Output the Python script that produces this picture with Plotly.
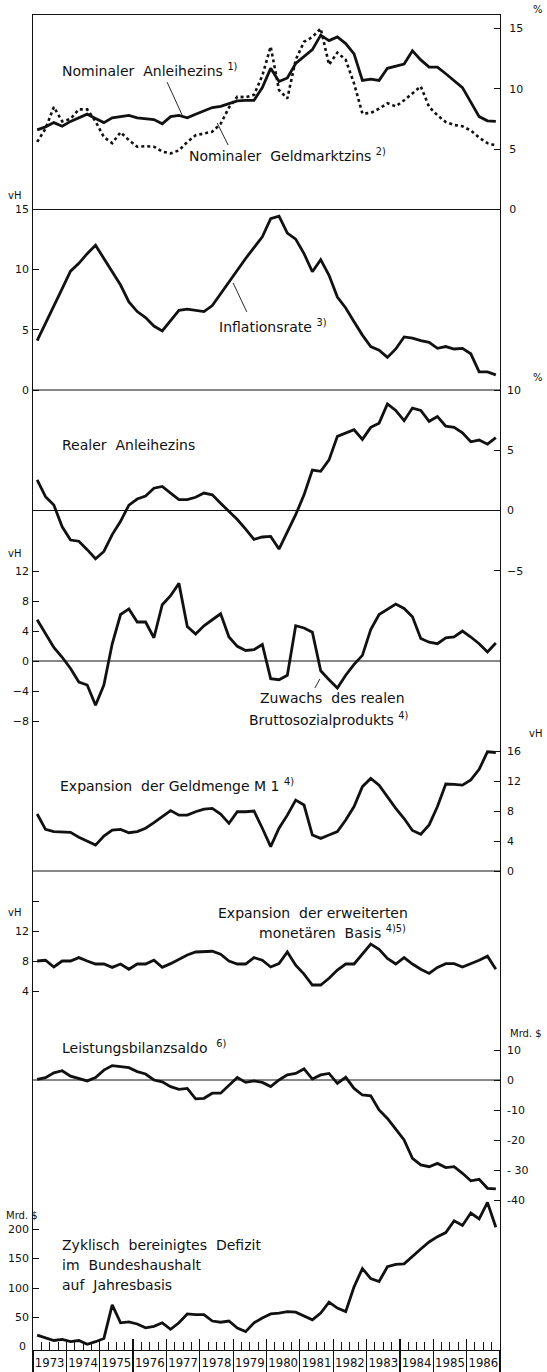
import plotly.graph_objects as go

# ---------------- data (quarterly, 1973 Q1 .. 1986 Q4) ----------------
years = list(range(1973, 1987))
year_labels = [str(y) for y in years]
n_q = 56

nominal_bond = [6.6, 6.85, 7.2, 6.9, 7.3, 7.6, 7.9, 7.55, 7.2, 7.6, 7.7, 7.8, 7.6, 7.55, 7.45, 7.1,
                7.7, 7.8, 7.6, 7.9, 8.2, 8.45, 8.55, 8.8, 9.0, 9.05, 9.05, 10.1, 11.7, 10.6, 10.9, 12.1,
                12.65, 13.25, 14.45, 14.0, 14.3, 13.75, 12.9, 10.7, 10.8, 10.7, 11.7, 11.9, 12.05, 13.15,
                12.4, 11.8, 11.8, 11.25, 10.7, 10.1, 8.9, 7.7, 7.35, 7.3]
money_market = [5.6, 6.7, 8.5, 7.3, 7.5, 8.3, 8.3, 7.3, 6.0, 5.5, 6.4, 5.75, 5.2, 5.25, 5.2, 4.8,
                4.65, 4.9, 5.6, 6.15, 6.3, 6.45, 7.1, 8.45, 9.35, 9.3, 9.5, 11.1, 13.5, 9.9, 9.2, 12.4,
                13.9, 14.3, 15.0, 12.0, 13.0, 12.4, 10.45, 7.95, 8.0, 8.35, 8.8, 8.55, 9.05, 9.6,
                10.2, 8.5, 7.8, 7.25, 7.0, 6.9, 6.55, 5.95, 5.5, 5.3]
inflation = [4.1, 5.5, 6.9, 8.4, 9.85, 10.5, 11.3, 12.0, 10.9, 9.8, 8.7, 7.3, 6.5, 6.0, 5.3, 4.9,
             5.75, 6.6, 6.7, 6.6, 6.5, 7.0, 8.0, 9.0, 9.95, 10.9, 11.8, 12.7, 14.2, 14.4, 13.0, 12.5,
             11.3, 9.8, 10.8, 9.5, 7.7, 6.8, 5.65, 4.55, 3.6, 3.3, 2.7, 3.4, 4.4, 4.3, 4.1, 3.95,
             3.45, 3.6, 3.4, 3.45, 3.0, 1.5, 1.5, 1.25]
real_bond = [2.55, 1.15, 0.45, -1.35, -2.45, -2.55, -3.25, -4.0, -3.4, -2.0, -0.9, 0.45, 0.95, 1.2, 1.85, 2.0,
             1.45, 0.9, 0.9, 1.1, 1.45, 1.3, 0.6, -0.1, -0.75, -1.55, -2.4, -2.2, -2.15, -3.2, -1.75, -0.35,
             1.3, 3.35, 3.25, 4.2, 6.15, 6.45, 6.7, 5.9, 6.9, 7.25, 8.85, 8.3, 7.45, 8.5,
             8.3, 7.4, 7.8, 7.0, 6.9, 6.45, 5.7, 5.85, 5.5, 6.05]
gdp_growth = [5.5, 3.6, 1.8, 0.5, -1.0, -2.8, -3.2, -5.9, -3.2, 2.3, 6.2, 6.95, 5.2, 5.2, 3.1, 7.5,
              8.7, 10.35, 4.6, 3.6, 4.7, 5.5, 6.3, 3.2, 1.95, 1.4, 1.5, 2.2, -2.35, -2.5, -1.9, 4.7,
              4.4, 3.85, -1.3, -2.5, -3.6, -1.9, -0.45, 0.75, 4.2, 6.2, 6.95, 7.6, 7.0, 5.9,
              3.0, 2.5, 2.3, 3.1, 3.2, 4.0, 3.2, 2.3, 1.2, 2.4]
m1_growth = [7.6, 5.55, 5.25, 5.15, 5.15, 4.5, 4.0, 3.45, 4.65, 5.45, 5.55, 5.1, 5.25, 5.7, 6.45, 7.25,
             8.05, 7.45, 7.45, 7.9, 8.25, 8.35, 7.6, 6.35, 7.9, 7.9, 8.0, 5.7, 3.25, 5.7, 7.45, 9.45,
             8.8, 4.8, 4.35, 4.8, 5.25, 6.8, 8.6, 11.25, 12.35, 11.45, 9.9, 8.35, 7.0, 5.4,
             4.9, 6.15, 8.6, 11.6, 11.55, 11.45, 12.15, 13.55, 15.9, 15.8]
monetary_base = [8.0, 8.1, 7.2, 8.0, 8.0, 8.45, 8.0, 7.6, 7.6, 7.15, 7.6, 6.9, 7.6, 7.6, 8.1, 7.15,
                 7.65, 8.2, 8.8, 9.2, 9.2, 9.3, 8.9, 8.0, 7.6, 7.6, 8.45, 8.1, 7.2, 7.65, 9.2, 7.45,
                 6.25, 4.8, 4.8, 5.7, 6.8, 7.6, 7.6, 8.9, 10.25, 9.55, 8.35, 7.6, 8.45, 7.6,
                 6.9, 6.35, 7.15, 7.65, 7.65, 7.2, 7.6, 8.1, 8.65, 6.9]
current_account = [0.2, 0.8, 2.4, 3.1, 1.3, 0.6, -0.3, 0.8, 3.3, 4.8, 4.4, 4.1, 2.8, 2.0, 0.0, -0.6,
                   -2.2, -3.1, -2.8, -6.3, -6.1, -4.4, -4.4, -1.7, 0.8, -0.8, -0.3, -0.8, -2.2, 0.0, 1.7, 2.2,
                   3.7, 0.3, 1.7, 2.2, -1.1, 0.9, -2.8, -5.0, -5.3, -10.0, -12.8, -16.4, -20.0, -26.1,
                   -28.3, -28.9, -27.8, -29.2, -28.9, -31.1, -33.6, -33.1, -36.1, -36.3]
deficit = [20, 15.5, 11, 13, 9, 11, 4.5, 9, 14.5, 71.5, 41, 42.5, 39, 32.5, 35, 41,
           30, 41, 56, 55, 55, 44, 42, 44, 32, 26, 41, 49, 56, 57.5, 60, 59,
           52, 46, 57.5, 76, 66, 60, 102, 133, 116, 111, 136, 140, 141, 154,
           166, 178, 187, 194, 214, 206, 227, 217, 245, 203]

x_q = [1973 + 0.125 + 0.25 * i for i in range(n_q)]

# ---------------- geometry helpers ----------------
W, H = 547, 1372
PL, PR, PT, PB = 33, 500, 15, 1350
PW, PH = PR - PL, PB - PT


def rng(va, ya, vb, yb):
    s = (ya - yb) / (vb - va)
    r0 = va - (PB - ya) / s
    return [r0, r0 + PH / s]


def fx(px):
    return (px - PL) / PW


def fy(py):
    return (PB - py) / PH


BLACK = "#111111"
FONT = "DejaVu Sans"
NARROW = "DejaVu Sans Condensed, Liberation Sans Narrow, DejaVu Sans"
LW = 2.8

fig = go.Figure()

series = [
    (nominal_bond, "y", dict(color=BLACK, width=LW)),
    (money_market, "y", dict(color=BLACK, width=2.6, dash="dot")),
    (inflation, "y2", dict(color=BLACK, width=LW)),
    (real_bond, "y3", dict(color=BLACK, width=LW)),
    (gdp_growth, "y4", dict(color=BLACK, width=LW)),
    (m1_growth, "y5", dict(color=BLACK, width=LW)),
    (monetary_base, "y6", dict(color=BLACK, width=LW)),
    (current_account, "y7", dict(color=BLACK, width=LW)),
    (deficit, "y8", dict(color=BLACK, width=LW)),
]
for vals, ya, ln in series:
    fig.add_trace(go.Scatter(x=x_q, y=vals, yaxis=ya, mode="lines", line=ln,
                             hoverinfo="skip", showlegend=False))
# helper trace for the quarter tick axis
fig.add_trace(go.Scatter(x=[], y=[], xaxis="x2", yaxis="y", showlegend=False))

tickfont = dict(family=FONT, size=11, color=BLACK)
common = dict(showgrid=False, zeroline=False, ticks="inside", ticklen=6, tickwidth=1,
              tickcolor=BLACK, tickfont=tickfont, tickmode="array", fixedrange=True,
              automargin=False)

axes = {
    "yaxis": dict(side="right", range=rng(0, 209.5, 15, 28.5), tickvals=[0, 5, 10, 15],
                  showline=True, mirror=True, linecolor=BLACK, linewidth=1),
    "yaxis2": dict(side="left", range=rng(0, 390, 15, 209), tickvals=[0, 5, 10, 15]),
    "yaxis3": dict(side="right", range=rng(0, 510.5, 10, 390), tickvals=[-5, 0, 5, 10]),
    "yaxis4": dict(side="left", range=rng(0, 661, 12, 571), tickvals=[-8, -4, 0, 4, 8, 12]),
    "yaxis5": dict(side="right", range=rng(0, 871, 16, 751), tickvals=[0, 4, 8, 12, 16]),
    "yaxis6": dict(side="left", range=rng(4, 991, 12, 931), tickvals=[4, 8, 12, 16],
                   ticktext=["4", "8", "12", " "]),
    "yaxis7": dict(side="right", range=rng(0, 1080, -40, 1200), tickvals=[-40, -30, -20, -10, 0, 10],
                   ticktext=["-40", "- 30", "-20", "-10", "0", "10"]),
    "yaxis8": dict(side="left", range=rng(0, 1347, 200, 1229), tickvals=[50, 100, 150, 200],
                   ticktext=["50", "100", "150", "200"]),
}

for k, v in axes.items():
    d = dict(common)
    d.update(v)
    if k != "yaxis":
        d["overlaying"] = "y"
        d["showline"] = False
    d["domain"] = [0, 1]
    d["anchor"] = "x"
    d["ticklabelstandoff"] = 6 if d["side"] == "right" else 3
    fig.update_layout({k: d})

mid_years = [y + 0.5 for y in years]
fig.update_layout(
    xaxis=dict(range=[1973, 1987], tickmode="array", tickvals=mid_years, ticktext=year_labels,
               ticks="", showgrid=False, zeroline=False, showline=True, mirror=True,
               linecolor=BLACK, linewidth=1.2, fixedrange=True, automargin=False,
               tickfont=dict(family=NARROW, size=13, color=BLACK),
               minor=dict(tickmode="array", tickvals=years + [1987], ticks="outside",
                          ticklen=23, tickcolor=BLACK, tickwidth=1.2, showgrid=False)),
    xaxis2=dict(range=[1973, 1987], overlaying="x", anchor="y", side="bottom",
                tickmode="array", tickvals=years + [1987], ticks="inside", ticklen=11,
                tickcolor=BLACK, tickwidth=1.2, showticklabels=False, showgrid=False,
                zeroline=False, showline=False, fixedrange=True, automargin=False,
                minor=dict(tickmode="array", tickvals=[1973 + 0.25 * i for i in range(57)],
                           ticks="inside", ticklen=8, tickcolor=BLACK, tickwidth=1,
                           showgrid=False)),
)

# zero / reference lines
shapes = []
for ya in ["y", "y2", "y3", "y4", "y5", "y7"]:
    shapes.append(dict(type="line", xref="paper", x0=0, x1=1, yref=ya, y0=0, y1=0,
                       line=dict(color=BLACK, width=1)))

# leader lines (in data coordinates of each panel)
leaders = [
    ("y", 1977.02, 10.56, 1977.47, 7.83),
    ("y", 1978.52, 7.17, 1978.85, 5.34),
    ("y2", 1979.0, 8.87, 1979.41, 6.47),
    ("y4", 1981.6, -2.4, 1981.45, -3.6),
]
for ya, x0, y0, x1, y1 in leaders:
    shapes.append(dict(type="line", xref="x", yref=ya, x0=x0, y0=y0, x1=x1, y1=y1,
                       line=dict(color=BLACK, width=0.9)))
fig.update_layout(shapes=shapes)

# text labels
annots = []


def label(text, px, py, xanchor="left", size=14):
    annots.append(dict(text=text, xref="paper", yref="paper", x=fx(px), y=fy(py),
                       xanchor=xanchor, yanchor="middle", showarrow=False,
                       font=dict(family=FONT, size=size, color=BLACK)))


label("Nominaler  Anleihezins <sup>1)</sup>", 60, 70)
label("Nominaler  Geldmarktzins <sup>2)</sup>", 187, 155)
label("Inflationsrate <sup>3)</sup>", 217, 326)
label("Realer  Anleihezins", 60, 445)
label("Zuwachs  des realen", 407, 698, "right")
label("Bruttosozialprodukts <sup>4)</sup>", 410, 719, "right")
label("Expansion  der Geldmenge M 1 <sup>4)</sup>", 58, 785)
label("Expansion  der erweiterten", 410, 913, "right")
label("monetären  Basis <sup>4)5)</sup>", 408, 932, "right")
label("Leistungsbilanzsaldo  <sup>6)</sup>", 60, 1047)
label("Zyklisch  bereinigtes  Defizit", 60, 1245)
label("im  Bundeshaushalt", 60, 1265)
label("auf  Jahresbasis", 60, 1285)

# unit labels
label("%", 531, 9, size=10)
label("vH", 6, 196, size=10)
label("%", 531, 378, size=10)
label("vH", 6, 553, size=10)
label("vH", 527, 733, size=10)
label("vH", 6, 912, size=10)
label("Mrd. $", 508, 1033, size=10)
label("Mrd. $", 4, 1215, size=10)
# zero label of the deficit axis (sits on the bottom axis line)
label("0", 28, 1346, "right", size=11)

fig.update_layout(
    annotations=annots,
    width=W, height=H,
    margin=dict(l=PL, r=W - PR, t=PT, b=H - PB, pad=0, autoexpand=False),
    paper_bgcolor="white", plot_bgcolor="white",
    showlegend=False,
)

fig.write_html("out.html",
               config={"displayModeBar": False, "staticPlot": True},
               post_script="document.body.style.margin='0px';"
                           "document.body.style.padding='0px';"
                           "document.body.style.overflow='hidden';")
